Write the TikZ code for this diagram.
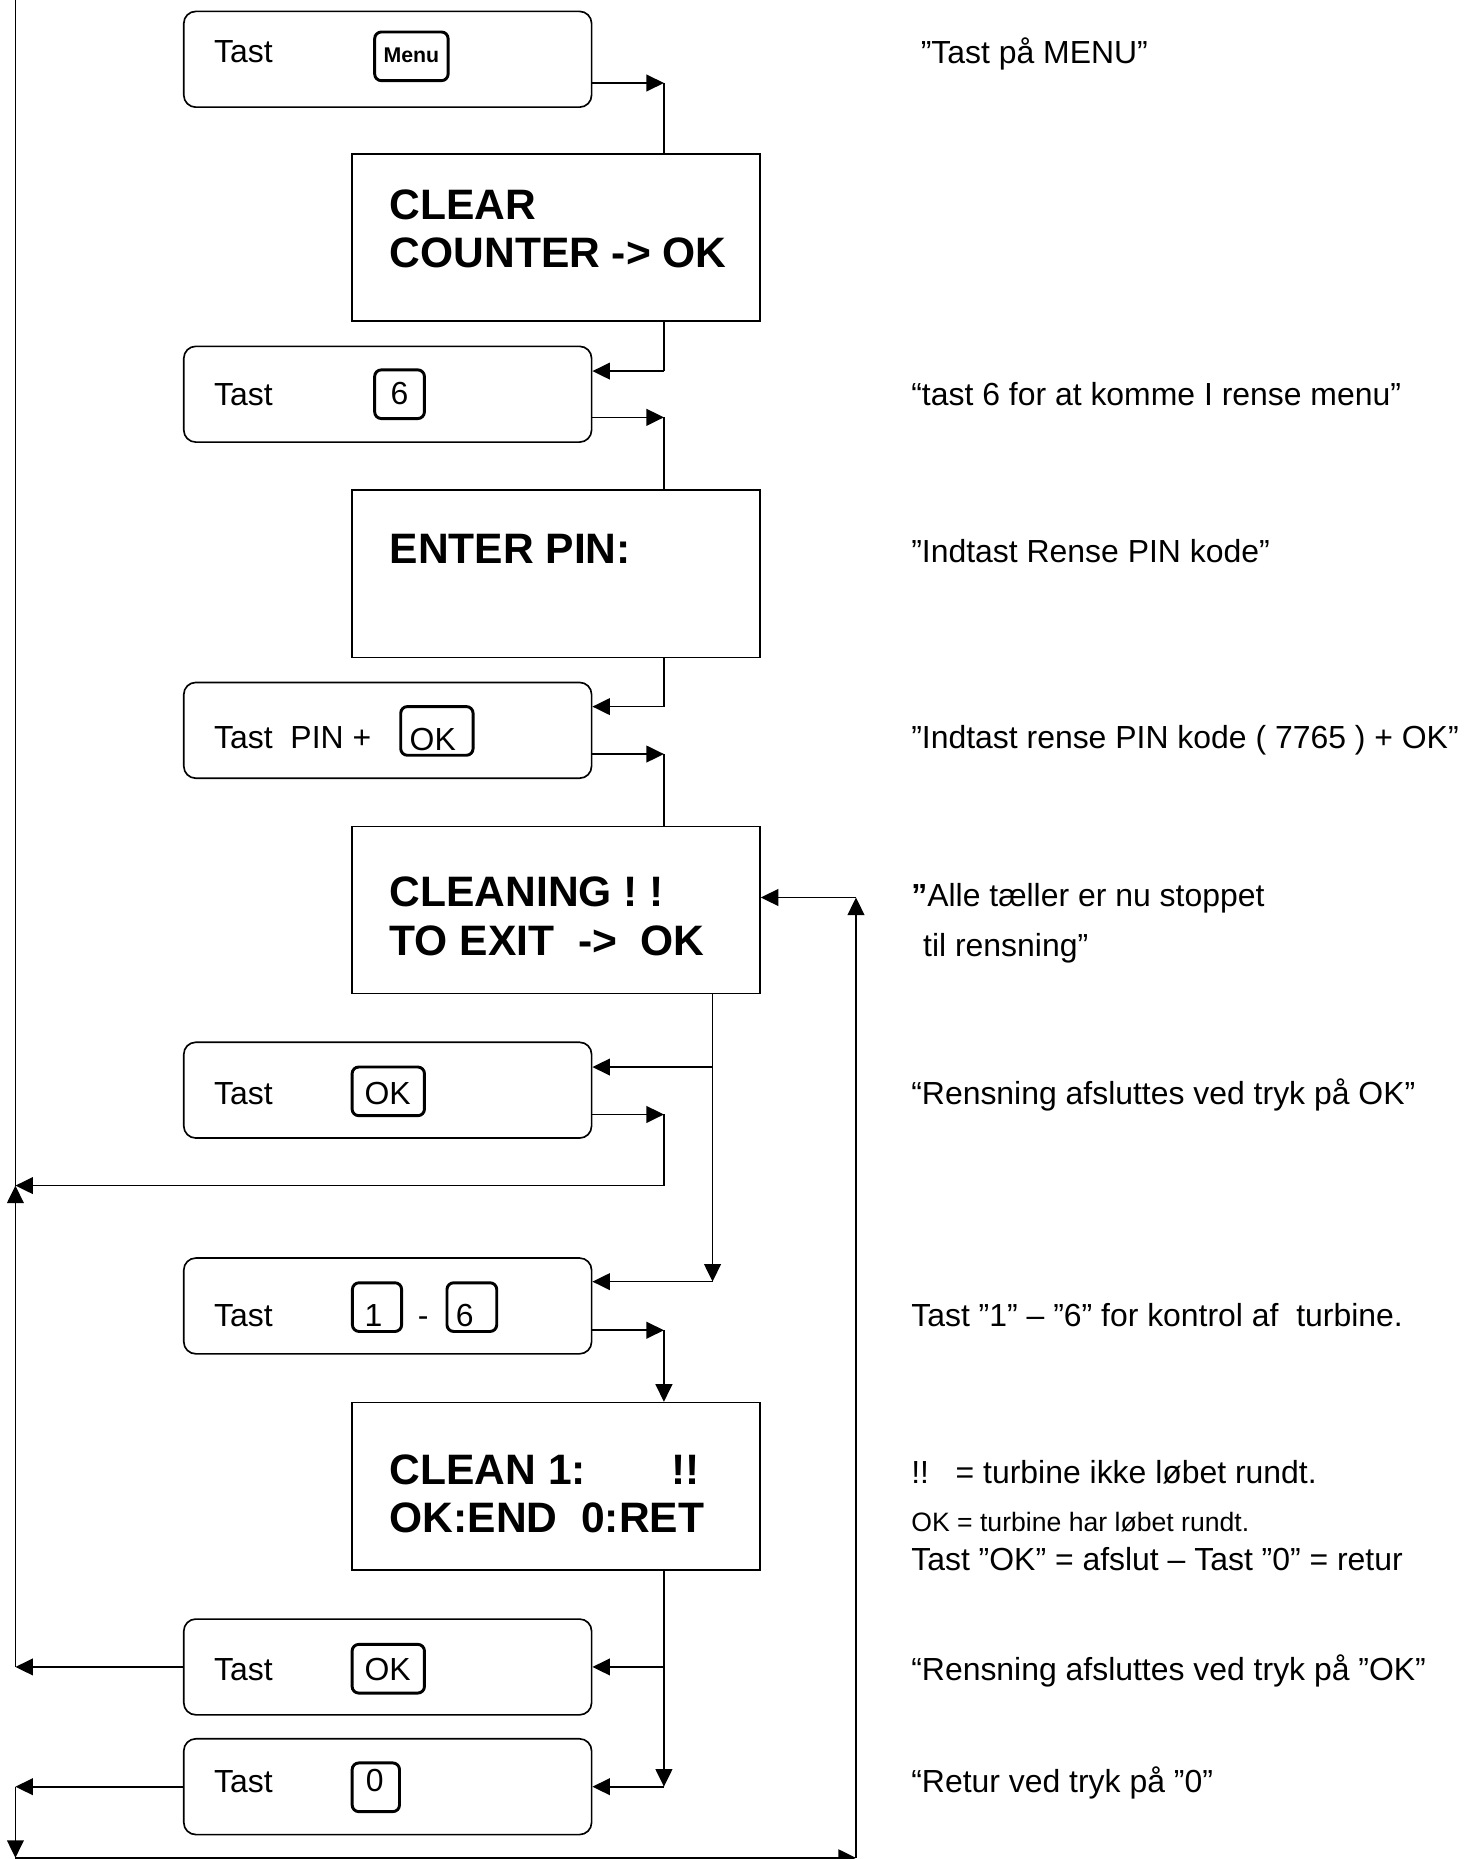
\documentclass[tikz,border=0pt]{standalone}
\usepackage{fontspec}
\setmainfont{Liberation Sans}
\usetikzlibrary{arrows.meta}
\frenchspacing

\begin{document}
\begin{tikzpicture}[x=0.4457pt,y=-0.4457pt,line width=0.62pt,
  tastbox/.style={draw,rounded corners=4.5pt,minimum width=153.3pt,minimum height=36pt,inner sep=0pt},
  lcdbox/.style={draw,minimum width=153.3pt,minimum height=62.8pt,inner sep=0pt},
  keybox/.style={draw,line width=1.1pt,rounded corners=2.5pt,minimum width=#1,minimum height=18.3pt,inner sep=0pt},
  keytxt/.style={inner sep=0pt,font=\fontsize{12}{14}\selectfont},
  txt/.style={anchor=base west,inner sep=0pt,font=\fontsize{12}{14}\selectfont},
  lcdtxt/.style={anchor=base west,inner sep=0pt,font=\fontsize{16}{19}\selectfont\bfseries},
  arr/.style={-{Triangle[length=6.6pt,width=6.3pt]}}]
   \useasboundingbox (0,0) rectangle (1247,1568);
   % taste-kasser
   \node[tastbox] (tmenu)  at (327,50) {};
   \node[tastbox] (tsix)   at (327,332.5) {};
   \node[tastbox] (tpin)   at (327,616) {};
   \node[tastbox] (tok)    at (327,919.5) {};
   \node[tastbox] (tnum)   at (327,1101.5) {};
   \node[tastbox] (tokend) at (327,1406) {};
   \node[tastbox] (tnull)  at (327,1507) {};
   % display
   \node[lcdbox] (lclear) at (469,200.5) {};
   \node[lcdbox] (lpin)   at (469,484) {};
   \node[lcdbox] (lclean) at (469,767.5) {};
   \node[lcdbox] (lturb)  at (469,1253.5) {};
   % tekst i kasser
   \node[txt] (tmenut)  at (180,52.6) {Tast};
   \node[txt] (tsixt)   at (180,341.6) {Tast};
   \node[txt] (tpint)   at (180,631.6) {Tast\ \ PIN +};
   \node[txt] (tokt)    at (180,931.6) {Tast};
   \node[txt] (tnumt)   at (180,1118.6) {Tast};
   \node[txt] (tokendt) at (180,1417.6) {Tast};
   \node[txt] (tnullt)  at (180,1511.6) {Tast};
   % taster
   \node[keybox=27.6pt] (kmenu)  at (347,47.5) {};
   \node[keybox=18.7pt] (ksix)   at (337,332.5) {};
   \node[keybox=27.2pt] (kpin)   at (368.5,616.5) {};
   \node[keybox=27.2pt] (kok)    at (327.5,920.5) {};
   \node[keybox=18.5pt] (kone)   at (318,1102.5) {};
   \node[keybox=18.7pt] (ksixb)  at (398,1102.5) {};
   \node[keybox=27.2pt] (kokend) at (327.5,1407.5) {};
   \node[keybox=17.8pt] (knull)  at (317,1507.5) {};
   \node[keytxt,font=\fontsize{8}{9}\selectfont\bfseries] (kmenut) at (347,47) {Menu};
   \node[keytxt] (ksixt)   at (337,332) {6};
   \node[keytxt] (kpint)   at (365,624) {OK};
   \node[keytxt] (kokt)    at (327,922) {OK};
   \node[keytxt] (konet)   at (315,1109.5) {1};
   \node[keytxt,anchor=base] (kdash) at (357,1118.5) {-};
   \node[keytxt] (ksixbt)  at (392,1109.5) {6};
   \node[keytxt] (kokendt) at (327,1408) {OK};
   \node[keytxt] (knullt)  at (316,1502) {0};
   % display-tekst
   \node[lcdtxt] (dclear)  at (328,185) {CLEAR};
   \node[lcdtxt] (dcount)  at (328,226) {COUNTER -> OK};
   \node[lcdtxt] (dpin)    at (328,475) {ENTER PIN:};
   \node[lcdtxt] (dclean)  at (328,765) {CLEANING ! !};
   \node[lcdtxt] (dexit)   at (328,806) {TO EXIT\ \ ->\ \ OK};
   \node[lcdtxt] (dturb)   at (328,1252) {CLEAN 1:\hspace{32pt}!!};
   \node[lcdtxt] (dend)    at (328,1293) {OK:END\ \ 0:RET};
   % kommentarer
   \node[txt] (c1)  at (776,53.6) {”Tast på MENU”};
   \node[txt] (c2)  at (768,341.6) {“tast 6 for at komme I rense menu”};
   \node[txt] (c3)  at (768,474.6) {”Indtast Rense PIN kode”};
   \node[txt] (c4)  at (768,631.6) {”Indtast rense PIN kode ( 7765 ) + OK”};
   \node[txt] (c5)  at (768,764.6) {{\bfseries ”}Alle tæller er nu stoppet};
   \node[txt] (c5b) at (778,806.6) {til rensning”};
   \node[txt] (c6)  at (768,931.6) {“Rensning afsluttes ved tryk på OK”};
   \node[txt] (c7)  at (768,1118.6) {Tast ”1” – ”6” for kontrol af\ \ turbine.};
   \node[txt] (c8)  at (768,1251.6) {!!\ \ \ = turbine ikke løbet rundt.};
   \node[txt,font=\fontsize{10}{12}\selectfont] (c9) at (768,1292) {OK = turbine har løbet rundt.};
   \node[txt] (c10) at (768,1324.6) {Tast ”OK” = afslut – Tast ”0” = retur};
   \node[txt] (c11) at (768,1417.6) {“Rensning afsluttes ved tryk på ”OK”};
   \node[txt] (c12) at (768,1511.6) {“Retur ved tryk på ”0”};
   % knudepunkter
   \coordinate (j1) at (560,70);
   \coordinate (j2) at (560,313);
   \coordinate (j3) at (560,352);
   \coordinate (j4) at (560,596);
   \coordinate (j5) at (560,636);
   \coordinate (j6) at (601,900);
   \coordinate (j7) at (601,1081);
   \coordinate (j8) at (560,940);
   \coordinate (j9) at (560,1000);
   \coordinate (j10) at (560,1122);
   \coordinate (j11) at (560,1406);
   \coordinate (j12) at (560,1507);
   \coordinate (l0) at (13,0);
   \coordinate (l1) at (13,1000);
   \coordinate (l2) at (13,1406);
   \coordinate (l3) at (13,1507);
   \coordinate (l4) at (13,1567);
   \coordinate (r1) at (722,1567);
   \coordinate (r2) at (722,757);
   % forbindelser
   \draw[arr] (tmenu.east |- j1) -- (j1);
   \draw (j1) -- (j1 |- lclear.north);
   \draw (j2 |- lclear.south) -- (j2);
   \draw[arr] (j2) -- (tsix.east |- j2);
   \draw[arr] (tsix.east |- j3) -- (j3);
   \draw (j3) -- (j3 |- lpin.north);
   \draw (j4 |- lpin.south) -- (j4);
   \draw[arr] (j4) -- (tpin.east |- j4);
   \draw[arr] (tpin.east |- j5) -- (j5);
   \draw (j5) -- (j5 |- lclean.north);
   \draw[arr] (j7 |- lclean.south) -- (j7);
   \draw[arr] (j6) -- (tok.east |- j6);
   \draw[arr] (j7) -- (tnum.east |- j7);
   \draw[arr] (tok.east |- j8) -- (j8);
   \draw[arr] (j8) -- (j9) -- (l1);
   \draw[arr] (tnum.east |- j10) -- (j10);
   \draw[arr] (j10) -- (j10 |- lturb.north);
   \draw[arr] (j12 |- lturb.south) -- (j12);
   \draw[arr] (j11) -- (tokend.east |- j11);
   \draw[arr] (j12) -- (tnull.east |- j12);
   \draw[arr] (tokend.west |- l2) -- (l2);
   \draw[arr] (tnull.west |- l3) -- (l3);
   \draw[arr] (l3) -- (l4);
   \draw[arr] (l4) -- (r1);
   \draw[arr] (r1) -- (r2);
   \draw[arr] (r2) -- (lclean.east |- r2);
   \draw[arr] (l2) -- (l1);
   \draw (l1) -- (l0);
\end{tikzpicture}
\end{document}
